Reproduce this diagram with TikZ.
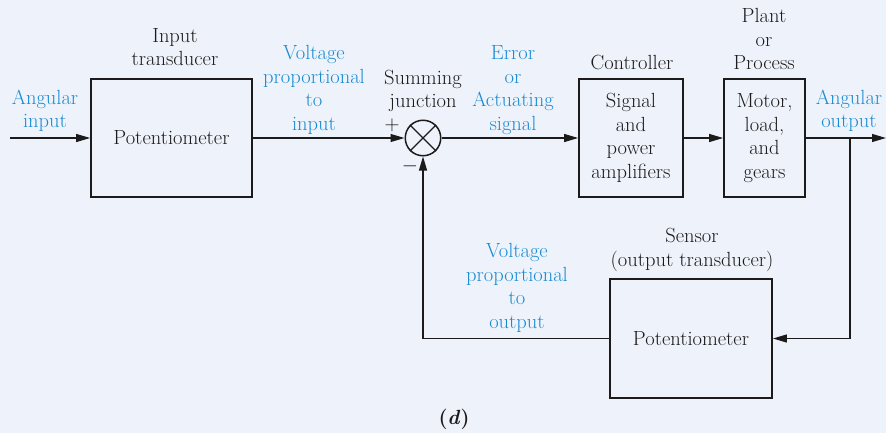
\documentclass[tikz,border=0pt]{standalone}
\usetikzlibrary{arrows.meta}
\definecolor{bgc}{HTML}{EEF3FB}
\definecolor{bluetxt}{HTML}{1A8AD0}
\definecolor{ink}{HTML}{1C1A1B}
\tikzset{
  blk/.style={draw=ink, line width=1.8pt, fill=none, rectangle, align=center, inner sep=0pt},
  lbl/.style={text=ink, align=center, inner sep=0pt, font=\fontsize{20.5}{23.5}\selectfont},
  blbl/.style={lbl, text=bluetxt},
  conn/.style={draw=ink, line width=1.2pt},
  arr/.style={conn, -{Triangle[length=14pt,width=8pt]}},
}
\begin{document}
\begin{tikzpicture}[x=1pt,y=-1pt]
\useasboundingbox (0,0) rectangle (886,433);
\fill[bgc] (0,0) rectangle (886,433);

% blocks
\node[blk, minimum width=161pt, minimum height=118pt, lbl] (p1) at (171.5,138) {Potentiometer};
\node[draw=ink, line width=1.5pt, circle, minimum size=35.5pt, inner sep=0pt] (sum) at (423,138) {};
\draw[ink, line width=1.2pt] (sum.north west) -- (sum.south east) (sum.north east) -- (sum.south west);
\node[blk, minimum width=104pt, minimum height=118pt, lbl] (ctrl) at (631,138) {Signal\\and\\power\\amplifiers};
\node[blk, minimum width=81pt, minimum height=118pt, lbl] (plant) at (764.5,138) {Motor,\\load,\\and\\gears};
\node[blk, minimum width=162pt, minimum height=119pt, lbl] (sens) at (691,338.5) {Potentiometer};

% labels
\node[blbl] (lin) at (45,111) {Angular\\input};
\node[lbl] (lit) at (175,47) {Input\\transducer};
\node[blbl] (lvi) at (314,90) {Voltage\\proportional\\to\\input};
\node[lbl] (lsj) at (423,91) {Summing\\junction};
\node[lbl] (lplus) at (392,125) {$+$};
\node[lbl] (lminus) at (410,166) {$-$};
\node[blbl] (lerr) at (513,90) {Error\\or\\Actuating\\signal};
\node[lbl] (lctrl) at (632,63) {Controller};
\node[lbl] (lplant) at (764,39) {Plant\\or\\Process};
\node[blbl] (lout) at (849,111) {Angular\\output};
\node[lbl] (lsens) at (692,250) {Sensor\\(output transducer)};
\node[blbl] (lvo) at (517,288) {Voltage\\proportional\\to\\output};
\node[lbl, font=\fontsize{20.5}{23.5}\selectfont\bfseries] (ld) at (454,419) {(\textit{d})};

% connectors
\coordinate (in) at (10,138);
\coordinate (out) at (886,138);
\coordinate (br) at (850,138);
\draw[arr] (in) -- (p1.west);
\draw[arr] (p1.east) -- (sum.west);
\draw[arr] (sum.east) -- (ctrl.west);
\draw[arr] (ctrl.east) -- (plant.west);
\draw[arr] (plant.east) -- (out);
\draw[arr] (br) |- (sens.east);
\draw[arr] (sens.west) -| (sum.south);
\end{tikzpicture}
\end{document}
